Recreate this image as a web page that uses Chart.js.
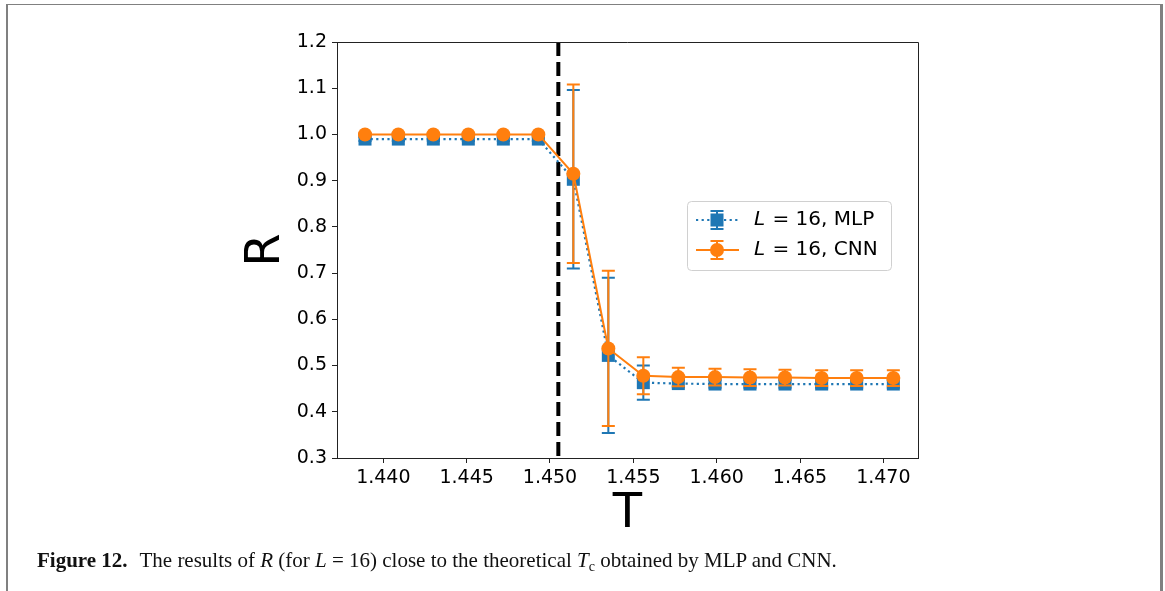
<!DOCTYPE html>
<html>
<head>
<meta charset="utf-8">
<script src="https://cdn.jsdelivr.net/npm/chart.js@4.4.1/dist/chart.umd.min.js"></script>
<style>
  html, body { margin: 0; padding: 0; background: #fff; }
  #wrap { position: relative; width: 1165px; height: 591px; overflow: hidden; }
  #frame {
    position: absolute; left: 6px; top: 4px; width: 1152px; height: 600px;
    border-left: 2px solid #808080; border-top: 1px solid #808080; border-right: 3px solid #808080;
  }
  #chart { position: absolute; left: 0; top: 0; }
  #caption {
    position: absolute; left: 37px; top: 548px;
    font-family: "Liberation Serif", "DejaVu Serif", serif; font-size: 21px; color: #111;
    white-space: nowrap;
  }
  #caption b { font-weight: bold; margin-right: 7px; }
  #caption sub { font-size: 14px; vertical-align: -4px; }
</style>
</head>
<body>
<div id="wrap">
  <div id="frame"></div>
  <canvas id="chart" width="1165" height="591"></canvas>
  <div id="caption"><b>Figure 12.</b> The results of <i>R</i> (for <i>L</i> = 16) close to the theoretical <i>T</i><sub>c</sub> obtained by MLP and CNN.</div>
</div>
<script>
// ===================================
// DATA
// ===================================

const temps = [1.4389, 1.4409, 1.4430, 1.4451, 1.4472, 1.4493, 1.4514, 1.4535,
               1.4556, 1.4577, 1.4599, 1.4620, 1.4641, 1.4663, 1.4684, 1.4706];

const mlpR   = [0.990, 0.990, 0.990, 0.990, 0.990, 0.990, 0.903, 0.522,
                0.463, 0.461, 0.460, 0.460, 0.460, 0.460, 0.460, 0.460];
const mlpErr = [0.004, 0.004, 0.004, 0.004, 0.004, 0.004, 0.193, 0.168,
                0.037, 0.008, 0.008, 0.008, 0.008, 0.008, 0.008, 0.008];

const cnnR   = [1.000, 1.000, 1.000, 1.000, 1.000, 1.000, 0.915, 0.537,
                0.478, 0.475, 0.475, 0.474, 0.474, 0.473, 0.473, 0.473];
const cnnErr = [0.002, 0.002, 0.002, 0.002, 0.002, 0.002, 0.193, 0.168,
                0.040, 0.020, 0.018, 0.018, 0.017, 0.017, 0.017, 0.017];

const tcLine = 1.4505;

const xTicks = [1.440, 1.445, 1.450, 1.455, 1.460, 1.465, 1.470];
const yTicks = [0.3, 0.4, 0.5, 0.6, 0.7, 0.8, 0.9, 1.0, 1.1, 1.2];

const BLUE = '#1f77b4';
const ORANGE = '#ff7f0e';
const FONT = 'DejaVu Sans';

// ===================================
// PLUGINS
// ===================================

// error bars, drawn just before each dataset so markers sit on top
const errorBars = {
  id: 'errorBars',
  beforeDatasetDraw(chart, args) {
    const ds = chart.data.datasets[args.index];
    if (!ds.errors) return;
    const { ctx, scales: { x, y } } = chart;
    ctx.save();
    ctx.strokeStyle = ds.borderColor;
    ctx.lineWidth = 2;
    ds.data.forEach((p, i) => {
      const e = ds.errors[i];
      const px = x.getPixelForValue(p.x);
      const top = y.getPixelForValue(p.y + e);
      const bot = y.getPixelForValue(p.y - e);
      ctx.beginPath();
      ctx.moveTo(px, top); ctx.lineTo(px, bot);
      ctx.moveTo(px - 6.5, top); ctx.lineTo(px + 6.5, top);
      ctx.moveTo(px - 6.5, bot); ctx.lineTo(px + 6.5, bot);
      ctx.stroke();
    });
    ctx.restore();
  }
};

// top and right spines
const frameBox = {
  id: 'frameBox',
  afterDatasetsDraw(chart) {
    const { ctx, chartArea: a } = chart;
    ctx.save();
    ctx.strokeStyle = '#222';
    ctx.lineWidth = 1;
    ctx.beginPath();
    ctx.moveTo(a.left, a.top + 0.5); ctx.lineTo(a.right + 0.5, a.top + 0.5);
    ctx.lineTo(a.right + 0.5, a.bottom);
    ctx.stroke();
    ctx.restore();
  }
};

// matplotlib-like legend box inside the axes
const legendBox = {
  id: 'legendBox',
  afterDraw(chart) {
    const { ctx, chartArea: a } = chart;
    const left = a.right - 231, top = a.top + 159, w = 204, h = 69;
    ctx.save();
    ctx.fillStyle = 'rgba(255,255,255,0.8)';
    ctx.strokeStyle = '#d0d0d0';
    ctx.lineWidth = 1;
    ctx.beginPath();
    ctx.roundRect(left + 0.5, top + 0.5, w, h, 4);
    ctx.fill(); ctx.stroke();

    const entries = [chart.data.datasets[1], chart.data.datasets[0]];
    entries.forEach((ds, i) => {
      const cy = top + 19 + i * 30;
      const mx = left + 30;
      // line
      ctx.strokeStyle = ds.borderColor;
      ctx.lineWidth = ds.borderWidth;
      ctx.setLineDash(ds.borderDash || []);
      ctx.beginPath();
      ctx.moveTo(left + 9, cy); ctx.lineTo(left + 52, cy);
      ctx.stroke();
      ctx.setLineDash([]);
      // error bar
      ctx.lineWidth = 2;
      ctx.beginPath();
      ctx.moveTo(mx, cy - 9); ctx.lineTo(mx, cy + 9);
      ctx.moveTo(mx - 6.5, cy - 9); ctx.lineTo(mx + 6.5, cy - 9);
      ctx.moveTo(mx - 6.5, cy + 9); ctx.lineTo(mx + 6.5, cy + 9);
      ctx.stroke();
      // marker
      ctx.fillStyle = ds.backgroundColor;
      if (ds.pointStyle === 'rect') {
        ctx.fillRect(mx - 6.5, cy - 6.5, 13, 13);
      } else {
        ctx.beginPath(); ctx.arc(mx, cy, 7, 0, Math.PI * 2); ctx.fill();
      }
      // text, first letter italic (math L)
      ctx.fillStyle = '#000';
      ctx.textBaseline = 'middle';
      ctx.font = `italic 20px "${FONT}"`;
      const tx = left + 67;
      ctx.fillText(ds.label[0], tx, cy);
      const lw = ctx.measureText(ds.label[0]).width;
      ctx.font = `20px "${FONT}"`;
      ctx.fillText(ds.label.slice(1), tx + lw + 1, cy);
    });
    ctx.restore();
  }
};

// ===================================
// CHART
// ===================================

const ctx = document.getElementById('chart');

new Chart(ctx, {
  type: 'scatter',
  data: {
    datasets: [
      {
        label: 'L = 16, CNN',
        data: temps.map((t, i) => ({ x: t, y: cnnR[i] })),
        errors: cnnErr,
        showLine: true,
        borderColor: ORANGE,
        backgroundColor: ORANGE,
        borderWidth: 2,
        pointStyle: 'circle',
        pointRadius: 7,
        pointBorderWidth: 0,
        order: 0
      },
      {
        label: 'L = 16, MLP',
        data: temps.map((t, i) => ({ x: t, y: mlpR[i] })),
        errors: mlpErr,
        showLine: true,
        borderColor: BLUE,
        backgroundColor: BLUE,
        borderWidth: 2.2,
        borderDash: [2.2, 3.4],
        pointStyle: 'rect',
        pointRadius: 9.2,
        pointBorderWidth: 0,
        order: 1
      },
      {
        label: 'Tc',
        data: [{ x: tcLine, y: 1.2 }, { x: tcLine, y: 0.3 }],
        showLine: true,
        borderColor: '#000',
        borderWidth: 4,
        borderDash: [14, 6],
        pointRadius: 0,
        order: 2
      }
    ]
  },
  options: {
    responsive: false,
    animation: false,
    devicePixelRatio: 1,
    layout: { padding: { left: 0, top: 42, right: 247, bottom: 0 } },
    plugins: {
      legend: { display: false },
      tooltip: { enabled: false }
    },
    scales: {
      x: {
        type: 'linear',
        min: 1.43722,
        max: 1.47208,
        afterFit: s => { s.height = 133; },
        afterBuildTicks: s => { s.ticks = xTicks.map(v => ({ value: v })); },
        ticks: {
          color: '#000',
          padding: 4,
          font: { family: FONT, size: 19 },
          callback: v => v.toFixed(3)
        },
        grid: { drawOnChartArea: false, tickLength: 5, color: '#222' },
        border: { color: '#222', width: 1 },
        title: {
          display: true,
          text: 'T',
          color: '#000',
          font: { family: FONT, size: 48 },
          padding: { top: 0, bottom: 48 }
        }
      },
      y: {
        min: 0.3,
        max: 1.2,
        afterFit: s => { s.width = 337; },
        afterBuildTicks: s => { s.ticks = yTicks.map(v => ({ value: v })); },
        ticks: {
          color: '#000',
          padding: 5,
          font: { family: FONT, size: 19 },
          callback: v => v.toFixed(1)
        },
        grid: { drawOnChartArea: false, tickLength: 5, color: '#222' },
        border: { color: '#222', width: 1 },
        title: {
          display: true,
          text: 'R',
          color: '#000',
          font: { family: FONT, size: 48 },
          padding: { top: 238, bottom: 0 }
        }
      }
    }
  },
  plugins: [errorBars, frameBox, legendBox]
});
</script>
</body>
</html>
